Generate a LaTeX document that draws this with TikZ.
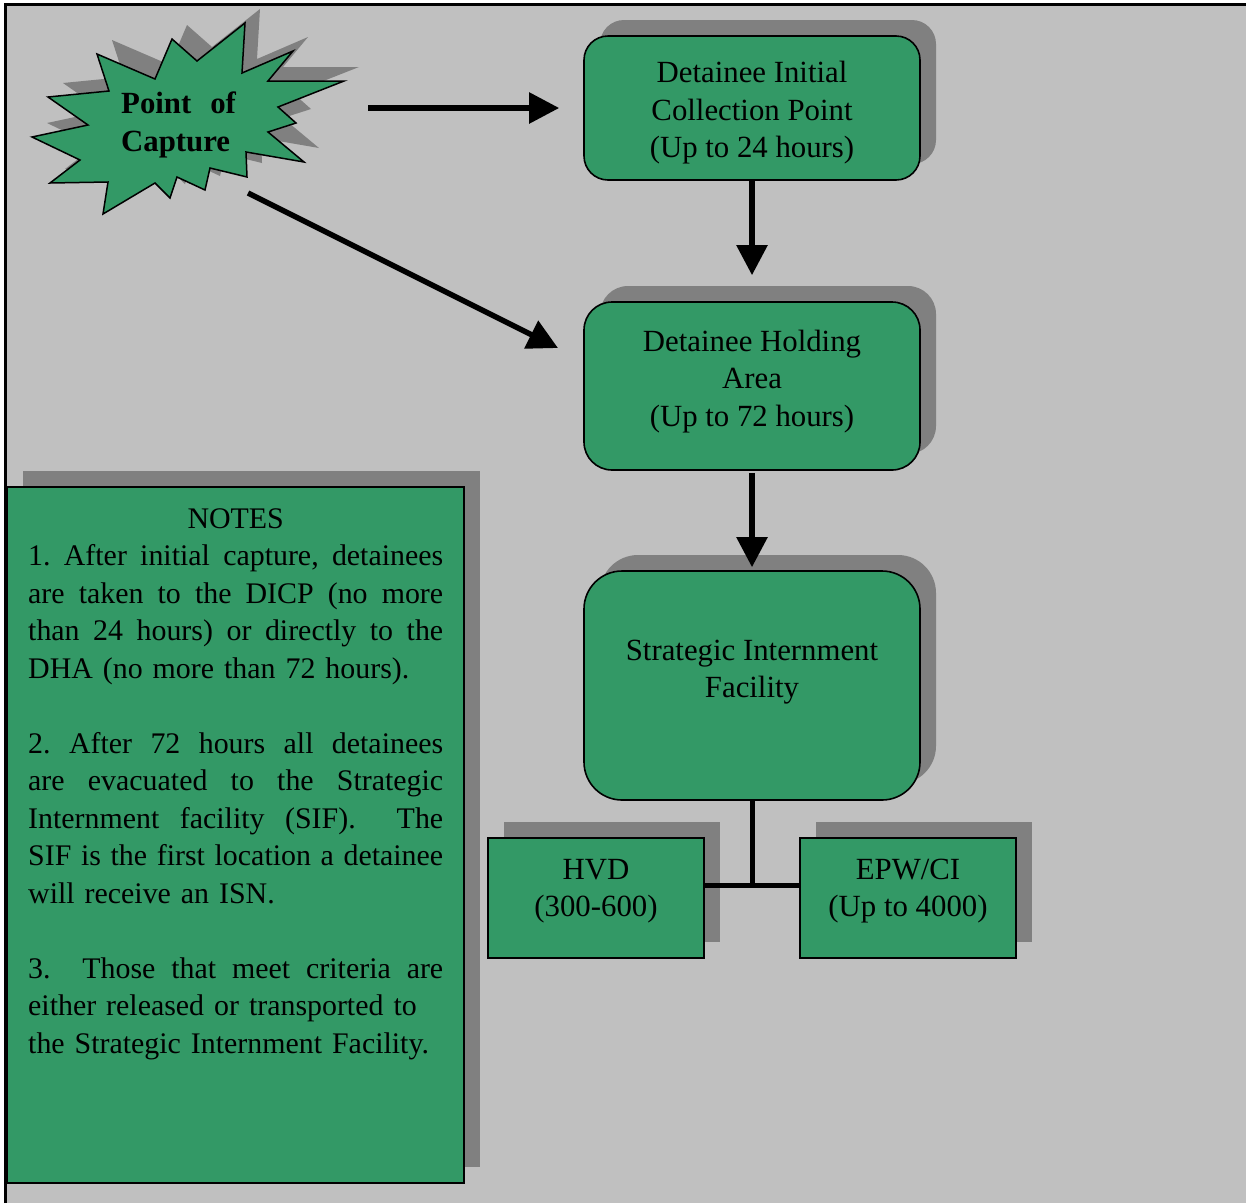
\documentclass[tikz,border=0pt]{standalone}
\usepackage{fontspec}
\setmainfont{Liberation Serif}
\usetikzlibrary{arrows.meta,shadows}
\definecolor{boxgreen}{HTML}{339966}
\definecolor{shadegray}{HTML}{808080}
\definecolor{panelgray}{HTML}{C0C0C0}

% a fully justified line of the notes
\newcommand\jline[1]{\makebox[\linewidth][s]{\spaceskip=0.25em plus 1em\relax #1}}

\tikzset{
  bodyfont/.style={font=\fontsize{30.8}{37.5}\selectfont},
  notefont/.style={font=\fontsize{29.9}{37.5}\selectfont\frenchspacing},
  txt/.style={bodyfont, inner sep=0pt, align=center},
  boxshadow/.style={drop shadow={shadow xshift=16pt, shadow yshift=16pt, fill=shadegray, opacity=1}},
  stagebox/.style={rectangle, draw=black, line width=1.6pt, fill=boxgreen,
    minimum width=336pt, inner sep=0pt, boxshadow},
  unitbox/.style={rectangle, draw=black, line width=1.6pt, fill=boxgreen,
    minimum width=216pt, minimum height=120pt, inner sep=0pt, boxshadow},
  flow/.style={line width=5.5pt, -{Triangle[length=30pt,width=30pt]}},
  link/.style={line width=5pt},
  burst/.pic={
    \path[pic actions] (97,54) -- (155,79) -- (172,39) -- (197,61) -- (245,23)
      -- (242,73) -- (293,51) -- (268,81) -- (344,81) -- (278,107) -- (296,123)
      -- (268,132) -- (304,162) -- (246,152) -- (247,177) -- (210,168)
      -- (205,190) -- (177,177) -- (170,198) -- (155,183) -- (103,214)
      -- (108,182) -- (50,183) -- (80,160) -- (32,137) -- (88,125) -- (48,97)
      -- (109,91) -- cycle;
  }
}

\begin{document}
\begin{tikzpicture}[x=1pt,y=-1pt]
  % page and panel frame
  \useasboundingbox (0,0) rectangle (1246,1203);
  \fill[white] (0,0) rectangle (1246,1203);
  \fill[panelgray] (5,4) rectangle (1246,1203);
  \draw[line width=3pt] (5,1203) -- (5,4) -- (1246,4);

  % point of capture burst
  \pic[fill=shadegray] at (15,-14) {burst};
  \pic[fill=boxgreen, draw=black, line width=1.5pt, line join=miter] at (0,0) {burst};
  \node[font=\fontsize{30.8}{37.5}\selectfont\bfseries, inner sep=0pt, align=left, anchor=west] (poc)
    at (121,125) {Point\hspace{19pt}of\\Capture};

  % processing stages
  \node[stagebox, minimum height=144pt, rounded corners=24pt] (dicp) at (752,108) {};
  \node[txt] (dicptext) at (752,113) {Detainee Initial\\Collection Point\\(Up to 24 hours)};

  \node[stagebox, minimum height=168pt, rounded corners=28pt] (dha) at (752,386) {};
  \node[txt] (dhatext) at (752,381.5) {Detainee Holding\\Area\\(Up to 72 hours)};

  \node[stagebox, minimum height=229pt, rounded corners=38pt] (sif) at (752,685.5) {};
  \node[txt] (siftext) at (752,672) {Strategic Internment\\Facility};

  % detainee categories
  \node[unitbox] (hvd) at (596,898) {};
  \node[txt] (hvdtext) at (596,891) {HVD\\(300-600)};
  \node[unitbox] (epw) at (908,898) {};
  \node[txt] (epwtext) at (908,891) {EPW/CI\\(Up to 4000)};

  % flow arrows
  \coordinate (capA) at (368,108);
  \coordinate (capB) at (248,193);
  \coordinate (capBend) at (558,348);
  \draw[flow] (capA) -- ([xshift=-24pt]dicp.west);
  \draw[flow] (capB) -- (capBend);
  \draw[flow] (dicp.south) -- ([yshift=26pt]dha.north);
  \draw[flow] ([yshift=-2pt]dha.south) -- ([yshift=3pt]sif.north);

  % split to categories
  \coordinate (split) at (752,885);
  \draw[link] (sif.south) -- (split);
  \draw[link] (hvd.east |- split) -- (epw.west |- split);

  % notes panel
  \node[rectangle, draw=black, line width=1.6pt, fill=boxgreen, boxshadow,
    minimum width=457pt, minimum height=696pt, inner sep=0pt] (notes) at (235.5,835) {};
  \node[notefont, inner sep=0pt, anchor=base west, text width=415pt, align=left]
    (notetext) at (28,528) {%
    \makebox[\linewidth]{NOTES}\\
    \jline{1. After initial capture, detainees}\\
    \jline{are taken to the DICP (no more}\\
    \jline{than 24 hours) or directly to the}\\
    DHA (no more than 72 hours).\\[37.5pt]
    \jline{2. After 72 hours all detainees}\\
    \jline{are evacuated to the Strategic}\\
    \jline{Internment facility (SIF). \ The}\\
    \jline{SIF is the first location a detainee}\\
    will receive an ISN.\\[37.5pt]
    \jline{3. \ Those that meet criteria are}\\
    either released or transported to\\
    the Strategic Internment Facility.};
\end{tikzpicture}
\end{document}
